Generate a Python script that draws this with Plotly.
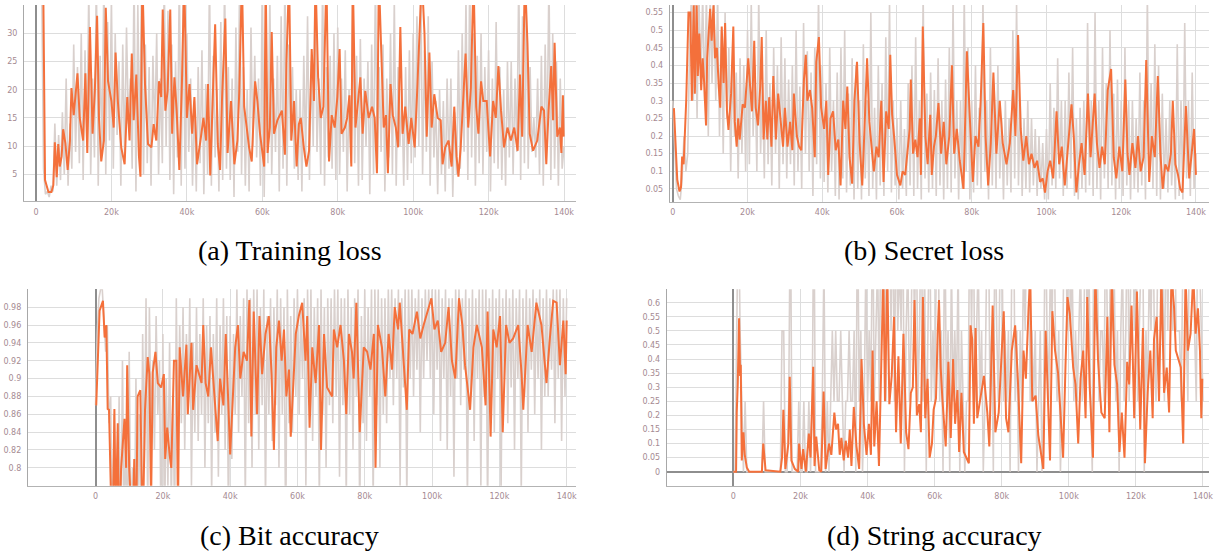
import plotly.graph_objects as go

# ---------------- data (training steps in thousands) ----------------
# raw (light grey) curves are sampled every 0.5k steps, 0 .. 140k
raw_steps = [i * 0.5 for i in range(281)]

# (a) Training loss
loss_raw = [None, None, None, 40, 6, 1.5, 2, 1, 3, 2, 14, 3, 12, 4, 16, 5, 22, 3, 14, 6,
            28, 9, 24, 7, 30, 4, 27, 10, 38, 5, 22, 8, 40, 3, 26, 9, 40, 5, 32, 11,
            36, 6, 30, 12, 25, 3, 28, 8, 31, 14, 22, 6, 40, 2, 35, 9, 40, 5, 28, 7,
            24, 3, 26, 12, 30, 5, 22, 7, 40, 10, 34, 4, 28, 1.5, 25, 8, 40, 3, 36, 6,
            30, 9, 22, 3, 18, 2, 24, 7, 27, 1.5, 21, 5, 40, 3, 26, 8, 20, 2, 32, 4,
            40, 6, 24, 4, 22, 1, 31, 9, 40, 5, 24, 3, 20, 2, 31, 10, 26, 8, 22, 3,
            40, 1, 25, 7, 36, 5, 22, 9, 26, 2, 33, 6, 40, 3, 28, 11, 24, 6, 20, 4,
            20, 2, 26, 8, 33, 4, 25, 10, 40, 9, 22, 5, 40, 3, 24, 8, 26, 6, 30, 4,
            31, 5, 22, 9, 27, 2, 20, 7, 40, 7, 26, 3, 29, 4, 22, 10, 25, 1.5, 28, 5,
            40, 6, 24, 9, 28, 2, 22, 8, 30, 5, 36, 3, 24, 10, 20, 3, 24, 4, 27, 7,
            30, 8, 33, 10, 40, 5, 27, 9, 33, 3, 25, 8, 18, 1.5, 20, 5, 18, 2, 22, 6,
            22, 1, 16, 5, 27, 6, 30, 9, 36, 4, 40, 8, 30, 3, 26, 7, 30, 5, 24, 9,
            27, 2, 22, 7, 32, 6, 24, 4, 20, 3, 25, 8, 25, 5, 22, 9, 40, 4, 33, 7,
            36, 6, 24, 9, 15, 8, 22, 5, 26, 3, 28, 10, 40, 4, 30, 6, 25, 3, 22, 6,
            10]
loss_smooth_steps = [1.9, 2.4, 3.3, 4.1, 4.6, 5.0, 5.5, 5.9, 6.3, 6.8,
                     7.2, 7.8, 8.4, 9.0, 9.4, 10.0, 11.0, 11.6, 12.5, 13.1,
                     13.6, 14.3, 15.0, 15.6, 16.2, 16.7, 17.3, 18.0, 18.5, 19.1,
                     20.0, 20.6, 21.1, 21.7, 22.6, 23.5, 24.2, 24.8, 25.4, 25.9,
                     26.6, 27.3, 27.7, 28.2, 28.9, 29.7, 30.6, 31.2, 31.9, 32.6,
                     33.2, 33.6, 34.3, 34.9, 35.6, 36.1, 36.7, 37.3, 38.0, 38.7,
                     39.3, 40.0, 40.7, 41.4, 42.0, 42.7, 43.6, 44.4, 45.1, 45.6,
                     46.2, 46.8, 47.5, 48.2, 48.8, 49.3, 50.2, 50.8, 51.7, 52.6,
                     53.4, 53.9, 54.6, 55.2, 55.8, 56.5, 57.2, 58.1, 58.7, 59.4,
                     60.5, 60.9, 61.4, 62.0, 62.5, 63.1, 64.0, 65.2, 66.0, 66.4,
                     67.1, 67.7, 68.4, 69.1, 69.7, 70.2, 71.0, 71.7, 72.4, 73.1,
                     73.7, 74.1, 74.8, 75.5, 76.2, 77.0, 77.7, 78.4, 79.2, 79.9,
                     80.5, 81.0, 81.9, 82.5, 83.1, 83.6, 84.0, 84.7, 85.4, 86.0,
                     86.6, 87.3, 88.2, 89.1, 89.8, 90.4, 90.9, 91.6, 92.2, 92.8,
                     93.3, 94.0, 94.6, 95.4, 96.0, 96.6, 97.2, 97.9, 98.8, 99.5,
                     100.4, 101.0, 101.7, 102.3, 103.0, 103.6, 104.3, 104.9, 105.6, 106.5,
                     107.3, 107.8, 108.5, 109.4, 110.2, 110.9, 111.5, 112.0, 112.6, 113.3,
                     113.9, 114.6, 115.3, 116.0, 116.7, 117.3, 118.0, 118.6, 119.5, 120.4,
                     121.2, 121.9, 122.6, 123.3, 124.1, 125.0, 125.9, 126.8, 127.7, 128.3,
                     128.9, 129.6, 130.3, 130.9, 131.8, 132.9, 134.0, 134.7, 135.3, 135.9,
                     136.6, 137.1, 137.5, 138.2, 138.9, 139.3, 139.7, 139.9]
loss_smooth = [40, 4.0, 1.9, 1.9, 3.1, 10.7, 4.5, 10.4, 6.4, 8.2,
               13.0, 10.5, 5.8, 11.0, 20.3, 15.5, 22.9, 15.0, 11.0, 22.9,
               8.8, 31.1, 12.2, 19.8, 33.1, 15.0, 7.3, 11.0, 34.5, 21.5,
               18.0, 13.3, 26.6, 18.0, 9.8, 6.8, 18.7, 11.0, 26.4, 14.6,
               22.7, 8.2, 4.6, 40, 21.0, 10.4, 9.8, 13.9, 11.0, 21.5,
               18.7, 34.2, 16.3, 19.8, 34.2, 12.2, 22.2, 16.3, 5.8, 21.5,
               40, 15.0, 21.0, 12.2, 18.7, 6.8, 11.0, 15.0, 11.0, 21.0,
               4.8, 19.2, 31.6, 10.4, 5.8, 18.0, 32.6, 8.8, 18.0, 6.8,
               11.0, 19.8, 40, 17.0, 13.9, 9.8, 7.3, 21.5, 18.0, 12.2,
               6.4, 40, 8.8, 13.3, 30.2, 12.2, 14.6, 16.3, 8.5, 24.8,
               40, 11.0, 18.0, 6.4, 13.9, 15.0, 9.8, 6.4, 9.2, 27.2,
               18.0, 40, 22.2, 15.0, 17.0, 40, 7.3, 15.5, 13.3, 18.7,
               27.2, 12.2, 13.3, 15.0, 19.0, 6.4, 40, 13.3, 18.0, 22.2,
               12.2, 19.8, 15.0, 17.0, 15.0, 5.2, 40, 23.3, 13.3, 15.5,
               5.2, 21.0, 15.5, 13.3, 9.8, 31.1, 12.2, 17.0, 10.4, 15.0,
               9.8, 18.7, 27.2, 40, 30.0, 11.7, 26.6, 13.3, 19.2, 15.0,
               14.6, 6.8, 9.8, 11.0, 6.4, 17.0, 8.2, 4.6, 9.8, 17.6,
               26.4, 13.3, 20.3, 40, 17.0, 12.2, 21.5, 18.0, 18.0, 8.2,
               18.0, 15.0, 24.2, 16.3, 9.8, 13.3, 11.0, 13.3, 9.2, 22.7,
               11.7, 40, 28.3, 12.2, 9.2, 11.0, 17.0, 16.3, 6.8, 16.3,
               24.2, 14.6, 28.3, 11.7, 13.3, 8.8, 19.0, 11.7]

# (b) Secret loss
secret_raw = [0.3, 0.15, 0.05, 0.03, 0.02, 0.08, 0.2, 0.1, 0.15, 0.45, 0.6, 0.3, 0.6, 0.25, 0.6, 0.35, 0.6, 0.3, 0.6, 0.2,
              0.6, 0.35, 0.6, 0.3, 0.6, 0.2, 0.5, 0.15, 0.55, 0.25, 0.45, 0.1, 0.4, 0.2, 0.38, 0.08, 0.42, 0.15, 0.4, 0.1,
              0.5, 0.12, 0.58, 0.2, 0.4, 0.1, 0.6, 0.15, 0.35, 0.08, 0.5, 0.12, 0.35, 0.06, 0.45, 0.15, 0.4, 0.05, 0.48, 0.12,
              0.42, 0.08, 0.36, 0.12, 0.4, 0.06, 0.5, 0.1, 0.34, 0.05, 0.52, 0.15, 0.44, 0.1, 0.38, 0.03, 0.45, 0.12, 0.6, 0.08,
              0.4, 0.07, 0.35, 0.04, 0.45, 0.1, 0.3, 0.03, 0.38, 0.02, 0.45, 0.08, 0.5, 0.04, 0.32, 0.06, 0.42, 0.02, 0.4, 0.05,
              0.3, 0.02, 0.46, 0.08, 0.3, 0.03, 0.55, 0.05, 0.28, 0.02, 0.4, 0.06, 0.35, 0.03, 0.48, 0.1, 0.58, 0.04, 0.3, 0.06,
              0.25, 0.02, 0.3, 0.05, 0.22, 0.03, 0.35, 0.06, 0.4, 0.03, 0.48, 0.05, 0.3, 0.02, 0.6, 0.08, 0.32, 0.04, 0.38, 0.05,
              0.33, 0.03, 0.42, 0.06, 0.3, 0.02, 0.36, 0.05, 0.45, 0.04, 0.58, 0.08, 0.3, 0.02, 0.3, 0.05, 0.6, 0.1, 0.45, 0.02,
              0.3, 0.04, 0.4, 0.06, 0.28, 0.05, 0.6, 0.1, 0.3, 0.02, 0.45, 0.06, 0.35, 0.05, 0.4, 0.08, 0.25, 0.02, 0.3, 0.06,
              0.25, 0.04, 0.5, 0.08, 0.58, 0.06, 0.3, 0.03, 0.25, 0.05, 0.3, 0.04, 0.25, 0.06, 0.22, 0.03, 0.2, 0.05, 0.18, 0.02,
              0.22, 0.02, 0.35, 0.06, 0.28, 0.05, 0.42, 0.08, 0.3, 0.03, 0.3, 0.05, 0.38, 0.08, 0.45, 0.03, 0.25, 0.02, 0.28, 0.05,
              0.3, 0.04, 0.52, 0.06, 0.3, 0.03, 0.55, 0.05, 0.3, 0.02, 0.45, 0.08, 0.35, 0.05, 0.5, 0.06, 0.32, 0.02, 0.36, 0.05,
              0.3, 0.03, 0.45, 0.06, 0.3, 0.02, 0.3, 0.05, 0.25, 0.04, 0.38, 0.06, 0.3, 0.02, 0.6, 0.08, 0.35, 0.05, 0.46, 0.03,
              0.4, 0.02, 0.32, 0.05, 0.25, 0.04, 0.3, 0.06, 0.2, 0.02, 0.46, 0.03, 0.3, 0.02, 0.52, 0.08, 0.3, 0.03, 0.38, 0.05,
              0.15]
secret_smooth_steps = [0.3, 1.2, 1.8, 2.2, 2.5, 2.9, 3.1, 3.6, 4.2, 4.7,
                       5.1, 5.6, 5.9, 6.4, 6.7, 7.1, 7.6, 8.0, 8.4, 8.9,
                       9.2, 9.6, 10.0, 10.4, 10.9, 11.3, 11.8, 12.3, 12.7, 13.1,
                       13.6, 14.0, 14.5, 14.9, 15.6, 16.2, 16.6, 17.1, 17.5, 17.9,
                       18.7, 19.3, 19.8, 20.2, 20.7, 21.2, 21.8, 22.2, 22.8, 23.4,
                       23.8, 24.3, 24.9, 25.3, 25.8, 26.4, 26.9, 27.6, 28.2, 28.9,
                       29.5, 30.0, 30.7, 31.4, 32.0, 32.4, 33.2, 33.8, 34.4, 35.1,
                       35.6, 36.0, 36.7, 37.3, 38.0, 38.4, 39.1, 39.7, 40.5, 41.1,
                       41.6, 42.2, 42.9, 43.6, 44.3, 44.9, 45.6, 46.2, 46.7, 47.3,
                       48.0, 48.6, 49.3, 50.0, 50.7, 51.3, 52.0, 52.6, 53.1, 53.8,
                       54.5, 55.1, 55.8, 56.4, 57.1, 57.8, 58.2, 58.7, 59.3, 60.0,
                       60.9, 61.5, 62.2, 62.8, 63.4, 63.7, 64.3, 64.9, 65.5, 66.1,
                       66.4, 66.9, 67.6, 68.2, 68.9, 69.3, 69.9, 70.4, 71.1, 71.8,
                       72.5, 73.2, 74.0, 74.7, 75.3, 76.0, 76.8, 77.8, 78.7, 79.5,
                       80.3, 81.0, 81.8, 82.4, 83.1, 83.7, 84.4, 85.1, 85.8, 86.6,
                       87.5, 88.3, 89.3, 90.2, 91.1, 91.7, 92.4, 93.1, 93.8, 94.6,
                       95.3, 96.0, 96.8, 97.5, 98.3, 99.0, 99.6, 100.3, 101.0, 101.8,
                       102.7, 103.4, 104.1, 104.9, 105.7, 106.7, 107.3, 108.0, 108.7, 109.4,
                       110.2, 111.1, 111.8, 112.9, 113.5, 114.2, 114.9, 115.6, 116.4, 117.3,
                       118.0, 118.7, 119.5, 120.3, 121.1, 121.7, 122.2, 123.0, 123.8, 124.5,
                       125.2, 126.0, 126.7, 127.5, 128.2, 129.0, 129.8, 130.5, 131.1, 131.8,
                       132.6, 133.3, 133.8, 134.5, 135.2, 135.8, 136.4, 137.3, 138.2, 138.8,
                       139.5, 140.0]
secret_smooth = [0.279, 0.076, 0.043, 0.055, 0.142, 0.12, 0.17, 0.302, 0.55, 0.55,
                 0.30, 0.57, 0.32, 0.57, 0.37, 0.49, 0.33, 0.42, 0.35, 0.23,
                 0.42, 0.51, 0.56, 0.47, 0.57, 0.42, 0.45, 0.34, 0.28, 0.51,
                 0.35, 0.52, 0.27, 0.217, 0.32, 0.51, 0.24, 0.17, 0.25, 0.19,
                 0.29, 0.28, 0.37, 0.42, 0.34, 0.27, 0.47, 0.28, 0.23, 0.34,
                 0.48, 0.19, 0.30, 0.19, 0.31, 0.17, 0.37, 0.19, 0.32, 0.25,
                 0.17, 0.28, 0.17, 0.24, 0.16, 0.32, 0.20, 0.17, 0.16, 0.36,
                 0.43, 0.30, 0.33, 0.28, 0.14, 0.41, 0.48, 0.28, 0.22, 0.30,
                 0.09, 0.25, 0.27, 0.16, 0.19, 0.06, 0.30, 0.22, 0.34, 0.14,
                 0.065, 0.30, 0.41, 0.18, 0.06, 0.22, 0.42, 0.24, 0.19, 0.10,
                 0.17, 0.14, 0.30, 0.07, 0.27, 0.22, 0.43, 0.26, 0.19, 0.09,
                 0.06, 0.10, 0.09, 0.15, 0.22, 0.36, 0.15, 0.19, 0.14, 0.25,
                 0.09, 0.51, 0.20, 0.12, 0.26, 0.09, 0.17, 0.20, 0.293, 0.15,
                 0.24, 0.12, 0.20, 0.40, 0.15, 0.22, 0.13, 0.05, 0.44, 0.25,
                 0.07, 0.20, 0.17, 0.30, 0.52, 0.20, 0.06, 0.18, 0.38, 0.15,
                 0.30, 0.18, 0.12, 0.18, 0.33, 0.20, 0.486, 0.22, 0.13, 0.20,
                 0.12, 0.15, 0.11, 0.13, 0.07, 0.08, 0.04, 0.10, 0.13, 0.08,
                 0.27, 0.12, 0.17, 0.06, 0.16, 0.29, 0.20, 0.04, 0.12, 0.18,
                 0.09, 0.32, 0.14, 0.32, 0.18, 0.11, 0.17, 0.12, 0.33, 0.39,
                 0.14, 0.08, 0.17, 0.10, 0.36, 0.15, 0.09, 0.18, 0.11, 0.20,
                 0.10, 0.14, 0.415, 0.07, 0.20, 0.14, 0.37, 0.15, 0.05, 0.12,
                 0.10, 0.15, 0.30, 0.12, 0.09, 0.05, 0.04, 0.285, 0.08, 0.14,
                 0.22, 0.09]

# (c) Bit accuracy
bit_raw = [0.87, 0.95, 0.99, 1.0, 1.0, 0.97, 0.93, 0.96, 0.85, 0.88, 0.7, 0.86, 0.82, 0.7, 0.88, 0.7, 0.92, 0.72, 0.85, 0.7,
           0.93, 0.72, 0.8, 0.7, 0.9, 0.75, 0.86, 0.72, 0.95, 0.8, 0.99, 0.75, 0.98, 0.84, 0.92, 0.82, 0.97, 0.86, 0.92, 0.7,
           0.95, 0.72, 0.9, 0.78, 0.94, 0.76, 0.88, 0.74, 0.99, 0.8, 0.96, 0.85, 0.98, 0.82, 0.95, 0.86, 0.99, 0.78, 0.94, 0.84,
           0.98, 0.83, 0.95, 0.86, 0.99, 0.8, 0.96, 0.85, 0.97, 0.77, 0.95, 0.84, 0.99, 0.79, 0.96, 0.86, 0.99, 0.82, 0.97, 0.74,
           0.97, 0.81, 0.95, 0.86, 1.0, 0.84, 0.97, 0.88, 0.99, 0.76, 1.0, 0.85, 0.99, 0.8, 1.0, 0.86, 1.0, 0.82, 0.98, 0.87,
           1.0, 0.76, 0.97, 0.86, 0.99, 0.83, 0.98, 0.87, 1.0, 0.8, 0.99, 0.86, 0.98, 0.72, 1.0, 0.85, 0.97, 0.84, 0.99, 0.88,
           1.0, 0.86, 0.98, 0.9, 0.99, 0.78, 1.0, 0.87, 1.0, 0.83, 0.98, 0.88, 0.99, 0.76, 1.0, 0.86, 0.98, 0.8, 0.99, 0.87,
           0.99, 0.85, 1.0, 0.88, 1.0, 0.79, 0.99, 0.87, 0.99, 0.76, 1.0, 0.86, 0.98, 0.82, 0.99, 0.88, 1.0, 0.74, 0.97, 0.85,
           1.0, 0.83, 0.98, 0.88, 1.0, 0.76, 1.0, 0.87, 1.0, 0.8, 0.99, 0.86, 0.99, 0.85, 1.0, 0.9, 1.0, 0.87, 0.99, 0.9,
           1.0, 0.78, 0.99, 0.89, 1.0, 0.76, 1.0, 0.9, 1.0, 0.88, 0.99, 0.91, 1.0, 0.84, 0.99, 0.9, 1.0, 0.92, 1.0, 0.9,
           1.0, 0.86, 1.0, 0.91, 1.0, 0.83, 0.99, 0.9, 1.0, 0.82, 0.99, 0.88, 0.99, 0.79, 1.0, 0.9, 1.0, 0.87, 0.99, 0.91,
           1.0, 0.76, 0.99, 0.88, 1.0, 0.83, 0.99, 0.9, 1.0, 0.78, 1.0, 0.88, 1.0, 0.75, 0.99, 0.87, 1.0, 0.84, 0.99, 0.9,
           1.0, 0.77, 0.99, 0.9, 1.0, 0.85, 0.99, 0.89, 1.0, 0.82, 0.99, 0.9, 1.0, 0.77, 0.99, 0.88, 1.0, 0.84, 0.99, 0.91,
           1.0, 0.86, 0.99, 0.9, 1.0, 0.82, 0.99, 0.88, 1.0, 0.88, 0.99, 0.91, 1.0, 0.85, 1.0, 0.9, 1.0, 0.83, 0.99, 0.88,
           0.99]
bit_smooth_steps = [0.2, 1.2, 2.2, 2.7, 3.2, 3.6, 4.0, 5.0, 5.6, 6.0,
                    6.6, 7.0, 7.6, 8.6, 9.1, 9.4, 10.0, 11.0, 11.5, 12.0,
                    12.5, 13.3, 14.0, 14.7, 15.5, 16.0, 16.5, 17.0, 17.8, 18.5,
                    19.5, 20.3, 20.7, 21.3, 22.0, 22.5, 23.3, 24.0, 24.5, 25.0,
                    26.0, 27.0, 27.4, 28.5, 29.0, 30.0, 31.5, 32.0, 32.7, 33.5,
                    34.3, 35.5, 36.3, 37.0, 38.0, 38.7, 39.5, 40.0, 40.5, 41.5,
                    42.3, 43.0, 44.0, 45.0, 45.7, 46.3, 47.0, 48.0, 48.7, 49.5,
                    50.5, 51.5, 52.3, 53.0, 53.7, 54.5, 55.3, 56.0, 56.7, 57.5,
                    58.0, 59.5, 60.4, 61.4, 62.4, 62.9, 63.6, 64.4, 65.4, 66.4,
                    67.0, 67.9, 68.8, 70.3, 70.8, 71.8, 72.8, 73.8, 74.5, 75.3,
                    76.2, 76.7, 77.5, 78.5, 79.7, 80.7, 81.7, 82.7, 83.2, 83.9,
                    85.1, 86.1, 87.1, 88.1, 88.9, 89.9, 90.4, 91.6, 92.5, 93.2,
                    94.2, 95.5, 96.5, 97.5, 99.0, 99.8, 100.7, 101.7, 102.7, 103.9,
                    104.9, 105.9, 106.9, 108.0, 109.0, 109.8, 111.3, 112.3, 113.3, 114.8,
                    115.9, 116.5, 117.4, 118.2, 119.2, 120.2, 121.0, 122.0, 123.0, 124.1,
                    125.6, 126.6, 127.1, 128.4, 129.6, 131.0, 132.5, 134.0, 135.0, 136.0,
                    137.0, 138.0, 139.0, 139.7, 140.0]
bit_smooth = [0.87, 0.976, 0.987, 0.946, 0.96, 0.866, 0.865, 0.70, 0.866, 0.74,
              0.85, 0.72, 0.80, 0.855, 0.80, 0.915, 0.80, 0.72, 0.81, 0.70,
              0.88, 0.887, 0.72, 0.865, 0.924, 0.905, 0.76, 0.907, 0.93, 0.895,
              0.89, 0.905, 0.81, 0.845, 0.815, 0.80, 0.92, 0.92, 0.75, 0.935,
              0.88, 0.938, 0.86, 0.94, 0.865, 0.915, 0.895, 0.96, 0.895, 0.88,
              0.935, 0.87, 0.83, 0.90, 0.87, 0.95, 0.86, 0.815, 0.855, 0.935,
              0.96, 0.90, 0.93, 0.92, 0.988, 0.835, 0.975, 0.86, 0.97, 0.905,
              0.95, 0.97, 0.905, 0.82, 0.935, 0.965, 0.92, 0.955, 0.88, 0.91,
              0.835, 0.95, 0.97, 0.985, 0.92, 0.97, 0.845, 0.935, 0.895, 0.96,
              0.82, 0.95, 0.89, 0.88, 0.955, 0.935, 0.96, 0.92, 0.86, 0.95,
              0.93, 0.90, 0.985, 0.84, 0.935, 0.93, 0.91, 0.95, 0.80, 0.96,
              0.935, 0.88, 0.95, 0.91, 0.98, 0.955, 0.985, 0.915, 0.865, 0.955,
              0.95, 0.975, 0.945, 0.96, 0.98, 0.99, 0.955, 0.965, 0.93, 0.94,
              0.98, 0.92, 0.90, 0.99, 0.96, 0.915, 0.865, 0.935, 0.96, 0.935,
              0.87, 0.975, 0.835, 0.955, 0.935, 0.97, 0.84, 0.96, 0.94, 0.945,
              0.96, 0.905, 0.865, 0.96, 0.93, 0.985, 0.96, 0.895, 0.945, 0.987,
              0.985, 0.915, 0.965, 0.905, 0.965]

# (d) String accuracy
str_raw = [0, 0, 0.5, 1.0, 0.5, 0.25, 0, 0.25, 0, 0, 0, 0, 0, 0, 0, 0, 0, 0, 0.25, 0,
           0, 0, 0, 0, 0, 0, 0, 0, 0, 0.5, 0.5, 0, 0, 0.25, 1.0, 0, 0, 0, 0, 0.25,
           0, 0, 0.25, 0, 0, 0.25, 0, 0.25, 1.0, 0, 0, 0, 0, 0.25, 0.75, 0, 0.25, 0, 0.25, 0.5,
           0.25, 0.5, 0.25, 0.25, 0.5, 0.25, 0, 0.25, 0.25, 0.5, 0.25, 0.25, 0.5, 0, 1.0, 0.25, 0.5, 0, 0.25, 0.75,
           0.25, 0.5, 0.25, 1.0, 0.25, 0.5, 0.75, 0.25, 1.0, 0.5, 1.0, 0.25, 0.75, 1.0, 0.5, 1.0, 0.25, 1.0, 0.5, 0.75,
           0.5, 1.0, 0, 0.5, 0.75, 0.25, 0.5, 1.0, 0.5, 1.0, 0.25, 0.5, 1.0, 0.25, 0.75, 0, 0.5, 1.0, 0.25, 0.5,
           0.25, 0.75, 1.0, 0.25, 0.5, 0, 1.0, 0.25, 0.5, 0, 0.75, 0.25, 0.5, 0.25, 0.75, 0, 0.5, 0.25, 0, 0.25,
           0.25, 1.0, 0.5, 1.0, 0.25, 0.5, 0.75, 0.25, 0.5, 0, 0.25, 0.75, 1.0, 0.25, 0.5, 0, 1.0, 0.5, 0.25, 0.75,
           1.0, 0.25, 0.5, 0.25, 0.5, 0, 0.75, 1.0, 0.25, 0.5, 0, 0.5, 0.25, 0.75, 0.5, 1.0, 1.0, 0.25, 0.5, 0.25,
           0.5, 0, 0.25, 0.5, 0, 0.25, 1.0, 0.5, 0.25, 0.75, 0.5, 1.0, 0.5, 0.25, 0.5, 0, 0.25, 0.75, 1.0, 0.5,
           1.0, 0.5, 0.75, 0.25, 0.5, 0.25, 0.5, 0.75, 0.25, 0.5, 1.0, 0.5, 0.75, 0.25, 0, 1.0, 0.5, 0.75, 0.25, 0.5,
           0.5, 0.25, 1.0, 0.5, 0.25, 1.0, 0.5, 0.75, 0.25, 0.5, 0, 0.5, 0.75, 0.25, 0.5, 1.0, 0.25, 0.75, 1.0, 0.5,
           1.0, 0.25, 0.5, 0.75, 1.0, 0, 0.5, 0.25, 0.75, 0.5, 1.0, 0.5, 0.25, 0.75, 1.0, 0.5, 0.75, 0.25, 1.0, 0.5,
           1.0, 0.75, 0.5, 1.0, 0.5, 0.5, 0.5, 0.25, 0.75, 1.0, 0.5, 0.25, 1.0, 0.75, 1.0, 0.5, 0.25, 1.0, 0.75, 0.5,
           0.25]
str_smooth_steps = [0.0, 0.8, 1.0, 1.3, 1.7, 2.0, 2.2, 2.5, 3.0, 3.4,
                    4.0, 4.7, 8.5, 8.9, 9.6, 14.0, 14.5, 14.9, 15.5, 16.4,
                    16.8, 17.3, 18.3, 19.3, 19.6, 20.3, 20.8, 21.6, 22.5, 23.0,
                    23.8, 24.2, 24.7, 25.6, 26.2, 26.9, 27.5, 28.5, 29.2, 30.1,
                    30.6, 31.2, 31.7, 32.2, 32.9, 33.5, 34.2, 34.7, 35.2, 35.9,
                    36.7, 37.5, 38.2, 38.9, 39.7, 40.4, 41.0, 41.5, 42.0, 42.7,
                    43.4, 43.9, 44.7, 45.2, 45.9, 46.5, 47.2, 47.9, 48.5, 49.2,
                    49.9, 50.7, 51.5, 52.2, 52.9, 53.5, 54.0, 54.7, 55.4, 55.9,
                    56.5, 57.2, 57.9, 58.5, 59.2, 59.7, 60.4, 60.9, 61.3, 61.8,
                    62.3, 63.3, 64.1, 64.8, 65.5, 66.1, 66.8, 67.3, 68.0, 68.7,
                    69.7, 70.2, 70.7, 71.2, 71.7, 72.2, 72.7, 73.7, 74.7, 75.7,
                    76.3, 77.3, 78.1, 79.1, 79.9, 80.6, 81.3, 82.0, 83.0, 84.0,
                    84.8, 85.8, 86.5, 87.2, 88.0, 88.5, 89.1, 90.1, 90.9, 91.7,
                    92.4, 93.1, 93.9, 94.4, 95.1, 95.9, 96.8, 97.6, 98.3, 99.0,
                    99.6, 100.3, 101.3, 102.0, 102.8, 103.5, 104.3, 105.0, 105.5, 106.2,
                    107.2, 107.9, 108.7, 109.7, 110.7, 111.5, 112.1, 112.8, 113.6, 114.4,
                    115.1, 115.8, 116.6, 117.4, 118.0, 118.7, 119.5, 120.3, 121.3, 122.1,
                    122.7, 123.5, 124.3, 125.0, 125.4, 126.2, 126.9, 127.6, 128.4, 129.2,
                    129.9, 130.6, 131.4, 131.9, 133.4, 134.1, 134.8, 135.5, 136.3, 137.1,
                    137.8, 138.5, 139.1, 139.5, 139.8]
str_smooth = [0, 0, 0.21, 0.31, 0.545, 0.34, 0.38, 0.04, 0.14, 0.06,
              0.015, 0, 0, 0.10, 0.005, 0, 0.05, 0.22, 0.01, 0.10,
              0.337, 0.04, 0.01, 0, 0.10, 0.01, 0.08, 0, 0.135, 0.05,
              0.373, 0.02, 0.125, 0.005, 0, 0.285, 0.01, 0.10, 0.06, 0.21,
              0.15, 0.17, 0.06, 0.12, 0.04, 0.11, 0.05, 0.15, 0.02, 0.23,
              0.09, 0.01, 0.40, 0.17, 0.06, 0.17, 0.06, 0.43, 0.09, 0.25,
              0.02, 0.33, 0.70, 0.25, 0.70, 0.24, 0.34, 0.55, 0.14, 0.41,
              0.10, 0.49, 0.14, 0.08, 0.28, 0.30, 0.61, 0.20, 0.24, 0.14,
              0.62, 0.19, 0.33, 0.05, 0.10, 0.22, 0.26, 0.49, 0.61, 0.37,
              0.26, 0.09, 0.39, 0.12, 0.40, 0.17, 0.29, 0.07, 0.28, 0.07,
              0.04, 0.03, 0.52, 0.47, 0.17, 0.51, 0.19, 0.26, 0.34, 0.21,
              0.09, 0.59, 0.14, 0.21, 0.43, 0.57, 0.19, 0.14, 0.43, 0.52,
              0.33, 0.03, 0.43, 0.33, 0.58, 0.70, 0.25, 0.27, 0.13, 0.07,
              0.01, 0.50, 0.25, 0.04, 0.57, 0.43, 0.35, 0.17, 0.05, 0.37,
              0.62, 0.56, 0.37, 0.31, 0.10, 0.33, 0.43, 0.19, 0.62, 0.31,
              0.05, 0.70, 0.40, 0.21, 0.19, 0.55, 0.14, 0.70, 0.38, 0.31,
              0.07, 0.21, 0.05, 0.39, 0.31, 0.59, 0.19, 0.64, 0.15, 0.51,
              0.03, 0.28, 0.43, 0.19, 0.47, 0.55, 0.25, 0.70, 0.28, 0.37,
              0.21, 0.70, 0.58, 0.43, 0.37, 0.10, 0.70, 0.43, 0.49, 0.70,
              0.49, 0.58, 0.43, 0.19, 0.33]

x_tickvals = [0, 20, 40, 60, 80, 100, 120, 140]
x_ticktext = ["0", "20k", "40k", "60k", "80k", "100k", "120k", "140k"]
loss_ticks = [5, 10, 15, 20, 25, 30]
secret_ticks = [0.05, 0.1, 0.15, 0.2, 0.25, 0.3, 0.35, 0.4, 0.45, 0.5, 0.55]
bit_ticks = [0.8, 0.82, 0.84, 0.86, 0.88, 0.9, 0.92, 0.94, 0.96, 0.98]
str_ticks = [0, 0.05, 0.1, 0.15, 0.2, 0.25, 0.3, 0.35, 0.4, 0.45, 0.5, 0.55, 0.6]
captions = ["(a) Training loss", "(b) Secret loss", "(c) Bit accuracy", "(d) String accuracy"]

# ---------------- figure ----------------
W, H = 1218, 553
RAW = "#d9d0cd"
SMO = "#f4703b"
GRID = "#dddddd"
TICKFONT = dict(family="DejaVu Sans", size=8, color="#a58a92")


def px_x(a, b):
    return [a / W, b / W]


def px_y(top, bottom):
    return [1 - bottom / H, 1 - top / H]


panels = [
    dict(rx=raw_steps, ry=loss_raw, sx=loss_smooth_steps, sy=loss_smooth,
         xd=px_x(24, 578), yd=px_y(5, 201), xr=[-3.2, 143.2], yr=[0.3, 35.0],
         yt=loss_ticks, ytt=[str(v) for v in loss_ticks]),
    dict(rx=raw_steps, ry=secret_raw, sx=secret_smooth_steps, sy=secret_smooth,
         xd=px_x(672, 1213), yd=px_y(5, 201.7), xr=[-0.8, 143.5], yr=[0.014, 0.571],
         yt=secret_ticks, ytt=[f"{v:g}" for v in secret_ticks]),
    dict(rx=raw_steps, ry=bit_raw, sx=bit_smooth_steps, sy=bit_smooth,
         xd=px_x(28, 578), yd=px_y(289.3, 485.7), xr=[-20.1, 142.8], yr=[0.78, 1.0],
         yt=bit_ticks + [1.0], ytt=[f"{v:g}" for v in bit_ticks] + [""]),
    dict(rx=raw_steps, ry=str_raw, sx=str_smooth_steps, sy=str_smooth,
         xd=px_x(669, 1213), yd=px_y(289.3, 485.7), xr=[-19.85, 141.8], yr=[-0.0497, 0.6477],
         yt=str_ticks, ytt=[f"{v:g}" for v in str_ticks]),
]

fig = go.Figure()
layout = dict(width=W, height=H, margin=dict(l=0, r=0, t=0, b=0),
              paper_bgcolor="white", plot_bgcolor="white", showlegend=False)

for i, p in enumerate(panels):
    sfx = "" if i == 0 else str(i + 1)
    fig.add_trace(go.Scatter(x=p["rx"], y=p["ry"], mode="lines",
                             line=dict(color=RAW, width=1.6),
                             xaxis="x" + sfx, yaxis="y" + sfx, hoverinfo="skip"))
    fig.add_trace(go.Scatter(x=p["sx"], y=p["sy"], mode="lines",
                             line=dict(color=SMO, width=2),
                             xaxis="x" + sfx, yaxis="y" + sfx))
    layout["xaxis" + sfx] = dict(
        domain=p["xd"], range=p["xr"], anchor="y" + sfx,
        tickmode="array", tickvals=x_tickvals, ticktext=x_ticktext,
        showgrid=True, gridcolor=GRID, gridwidth=1,
        zeroline=True, zerolinecolor="#8e8e8e", zerolinewidth=1.5,
        showline=True, linecolor="#b3b3b3", linewidth=1,
        ticks="outside", ticklen=3, tickcolor="rgba(0,0,0,0)",
        tickfont=TICKFONT, fixedrange=True)
    layout["yaxis" + sfx] = dict(
        domain=p["yd"], range=p["yr"], anchor="x" + sfx,
        tickmode="array", tickvals=p["yt"], ticktext=p["ytt"],
        showgrid=True, gridcolor=GRID, gridwidth=1,
        zeroline=(i == 3), zerolinecolor="#8e8e8e", zerolinewidth=1.5,
        showline=True, linecolor="#a8a8a8", linewidth=1,
        ticks="outside", ticklen=4, tickcolor="rgba(0,0,0,0)",
        tickfont=TICKFONT, fixedrange=True)

fig.update_layout(**layout)

cap_pos = [(291, 251), (927, 251), (290, 535), (938, 535)]
for text, (cx, cy) in zip(captions, cap_pos):
    fig.add_annotation(text=text, xref="paper", yref="paper",
                       x=cx / W, y=1 - cy / H, xanchor="center", yanchor="middle",
                       showarrow=False,
                       font=dict(family="Liberation Serif", size=28, color="black"))

fig.write_html("out.html", config={"displayModeBar": False},
               post_script="document.body.style.margin='0px';")
